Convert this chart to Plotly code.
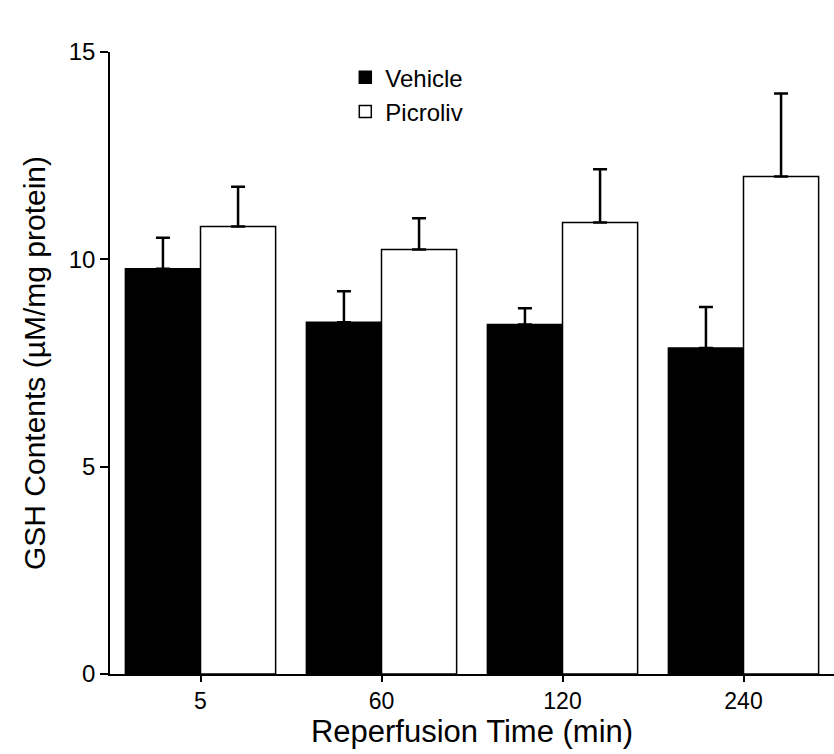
import plotly.graph_objects as go

categories = ["5", "60", "120", "240"]
vehicle = [9.77, 8.48, 8.43, 7.86]
vehicle_err = [0.75, 0.75, 0.39, 0.99]
picroliv = [10.79, 10.24, 10.89, 12.0]
picroliv_err = [0.96, 0.75, 1.28, 2.0]
y_ticks = [0, 5, 10, 15]

font_family = "Arial, Liberation Sans, Helvetica, sans-serif"

fig = go.Figure()
fig.add_trace(go.Bar(
    x=categories, y=vehicle, name="Vehicle",
    marker=dict(color="black", line=dict(color="black", width=1.5)),
    error_y=dict(type="data", array=vehicle_err, arrayminus=[0]*len(vehicle_err),
                 symmetric=False, color="black", thickness=2.5, width=7),
))
fig.add_trace(go.Bar(
    x=categories, y=picroliv, name="Picroliv",
    marker=dict(color="white", line=dict(color="black", width=1.5)),
    error_y=dict(type="data", array=picroliv_err, arrayminus=[0]*len(picroliv_err),
                 symmetric=False, color="black", thickness=2.5, width=7),
))

fig.update_layout(
    width=834, height=754,
    margin=dict(l=110, r=0, t=52, b=80),
    paper_bgcolor="white", plot_bgcolor="white",
    barmode="group", bargap=0.17, bargroupgap=0,
    font=dict(family=font_family, color="black", size=24),
    legend=dict(x=0.325, y=0.995, xanchor="left", yanchor="top",
                bgcolor="rgba(0,0,0,0)", font=dict(size=24),
                itemwidth=30, tracegroupgap=2),
    showlegend=True,
)
fig.update_xaxes(
    type="category", range=[-0.5, 3.5],
    showline=True, linecolor="black", linewidth=1.5,
    ticks="outside", ticklen=6, tickwidth=1.5, tickcolor="black",
    showgrid=False, zeroline=False,
    tickfont=dict(size=23),
    title=dict(text="Reperfusion Time (min)", font=dict(size=31), standoff=4),
)
fig.update_yaxes(
    range=[0, 15], tickvals=y_ticks,
    showline=True, linecolor="black", linewidth=1.5,
    ticks="outside", ticklen=8, tickwidth=1.5, tickcolor="black",
    showgrid=False, zeroline=False,
    tickfont=dict(size=24),
    title=dict(text="GSH Contents (µM/mg protein)", font=dict(size=30), standoff=14),
)

fig.write_html("out.html")
